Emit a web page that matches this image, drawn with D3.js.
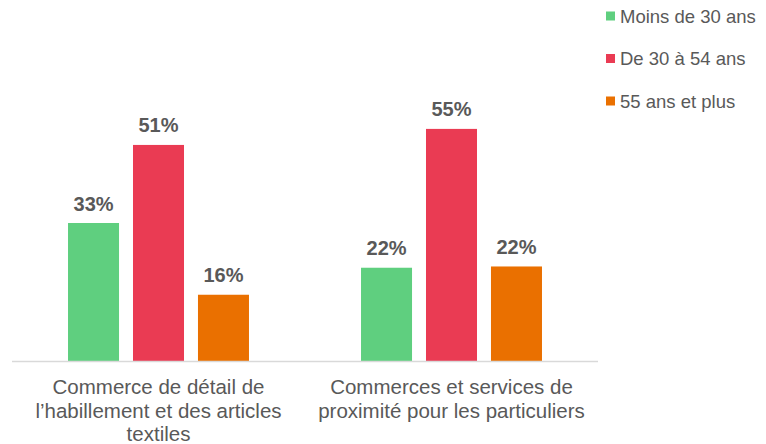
<!DOCTYPE html>
<html>
<head>
<meta charset="utf-8">
<script src="https://cdn.jsdelivr.net/npm/d3@7"></script>
<style>
  body { margin: 0; background: #fff; }
  text { font-family: "Liberation Sans", Arial, sans-serif; }
</style>
</head>
<body>
<svg id="chart" width="766" height="444"></svg>
<script>
const categories = [
  ["Commerce de détail de", "l\u2019habillement et des articles", "textiles"],
  ["Commerces et services de", "proximité pour les particuliers"]
];
const series = ["Moins de 30 ans", "De 30 à 54 ans", "55 ans et plus"];
const values = [
  [0.327, 0.512, 0.157],
  [0.221, 0.55, 0.224]
];
const colors = ["#5fcf7f", "#ea3b53", "#ea7000"];

const svg = d3.select("#chart");
const baseY = 361;

const x0 = d3.scaleBand().domain(d3.range(categories.length)).range([12, 598]).padding(0);
const x1 = d3.scaleBand().domain(d3.range(series.length))
  .range([-97.5, 97.5]).paddingInner(0.215).paddingOuter(0.108);
const y = d3.scaleLinear().domain([0, 0.6]).range([baseY, baseY - 253.2]);
const fmt = d3.format(".0%");

const groups = svg.selectAll(".grp")
  .data(values)
  .enter()
  .append("g")
  .attr("class", "grp")
  .attr("transform", (d, i) => `translate(${x0(i) + x0.bandwidth() / 2},0)`);

groups.selectAll("rect")
  .data(d => d)
  .enter()
  .append("rect")
  .attr("x", (d, j) => x1(j))
  .attr("y", d => y(d))
  .attr("width", x1.bandwidth())
  .attr("height", d => baseY - y(d))
  .style("fill", (d, j) => colors[j]);

groups.selectAll(".lbl")
  .data(d => d)
  .enter()
  .append("text")
  .attr("class", "lbl")
  .attr("x", (d, j) => x1(j) + x1.bandwidth() / 2)
  .attr("y", d => y(d) - 12.5)
  .attr("text-anchor", "middle")
  .attr("font-size", "20px")
  .attr("font-weight", "bold")
  .attr("fill", "#595959")
  .text(d => fmt(d));

// axis line
svg.append("line")
  .attr("x1", x0.range()[0]).attr("x2", x0.range()[1])
  .attr("y1", baseY + 0.5).attr("y2", baseY + 0.5)
  .style("stroke", "#d9d9d9")
  .style("stroke-width", 1.5);

// category labels
categories.forEach((lines, i) => {
  const t = svg.append("text")
    .attr("text-anchor", "middle")
    .attr("font-size", "20.5px")
    .attr("fill", "#595959");
  lines.forEach((ln, k) => {
    t.append("tspan")
      .attr("x", x0(i) + x0.bandwidth() / 2)
      .attr("y", 394 + k * 23.5)
      .text(ln);
  });
});

// legend
const leg = svg.selectAll(".leg")
  .data(series)
  .enter()
  .append("g")
  .attr("class", "leg")
  .attr("transform", (d, i) => `translate(606,${16 + i * 42.5})`);

leg.append("rect")
  .attr("x", 0).attr("y", -4.5)
  .attr("width", 9).attr("height", 9)
  .style("fill", (d, i) => colors[i]);

leg.append("text")
  .attr("x", 14)
  .attr("y", 6.5)
  .attr("font-size", "18.5px")
  .attr("fill", "#595959")
  .text(d => d);
</script>
</body>
</html>
